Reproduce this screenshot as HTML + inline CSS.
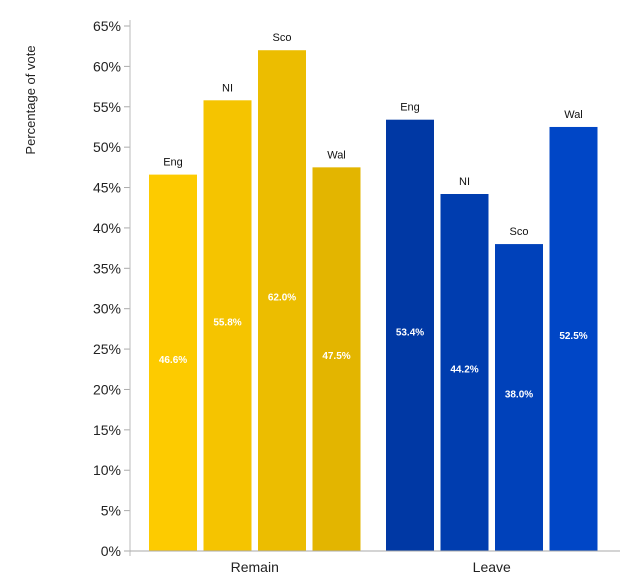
<!DOCTYPE html>
<html><head><meta charset="utf-8"><style>
body{margin:0;background:#fff;font-family:"Liberation Sans",sans-serif}
</style></head><body>
<svg id="c" width="625" height="583" xmlns="http://www.w3.org/2000/svg" font-family="Liberation Sans, sans-serif"></svg>
<script>
const groups = ['Remain','Leave'];
const regions = ['Eng','NI','Sco','Wal'];
const remainValues = [46.6,55.8,62.0,47.5];
const leaveValues = [53.4,44.2,38.0,52.5];
const tickValues = [0,5,10,15,20,25,30,35,40,45,50,55,60,65];
const remainColors = ['#FDCB00','#F5C400','#ECBD00','#E3B500'];
const leaveColors = ['#0038A4','#003DAF','#0041BA','#0046C6'];
const NS='http://www.w3.org/2000/svg';
const svg=document.getElementById('c');
const y0=551, y65=26;
function y(v){return y0-(v/65)*(y0-y65);}
const groupStart=[149,386], step=54.5, bw=48;
function x(g,i){return groupStart[g]+i*step;}
function mk(t,a,txt){const e=document.createElementNS(NS,t);for(const k in a)e.setAttribute(k,a[k]);if(txt!==undefined)e.textContent=txt;svg.appendChild(e);return e;}
tickValues.forEach(v=>{
  const l=mk('line',{x1:124,x2:130,y1:y(v),y2:y(v),stroke:'#aaa'});
  
  
  const t=mk('text',{x:121,y:y(v)+5,'text-anchor':'end','font-size':14,fill:'#222'},v+'%');
  
  
});
const ax=mk('line',{x1:130,x2:130,y1:20,y2:556,stroke:'#bbb'});


const yt=mk('text',{x:0,y:0,'font-size':13,fill:'#222','text-anchor':'middle',transform:'translate(35,100) rotate(-90)'},'Percentage of vote');


[remainValues,leaveValues].forEach((vals,g)=>{
  const cols=g?leaveColors:remainColors;
  vals.forEach((v,i)=>{
    const r=mk('rect',{x:x(g,i),y:y(v),width:bw,height:y0-y(v),fill:cols[i]});
    
    
    const c=mk('text',{x:x(g,i)+bw/2,y:y(v)-9,'text-anchor':'middle','font-size':11,fill:'#111'},regions[i]);
    
    
    const vl=mk('text',{x:x(g,i)+bw/2,y:(y(v)+y0)/2,'text-anchor':'middle','font-size':10,'font-weight':'bold',fill:'#fff'},v.toFixed(1)+'%');
    
    
  });
  const gl=mk('text',{x:x(g,0)+(3*step+bw)/2,y:572,'text-anchor':'middle','font-size':14,fill:'#222'},groups[g]);
  
  
});
const xa=mk('line',{x1:130,x2:620,y1:y0,y2:y0,stroke:'#aaa'});


</script>
</body></html>
